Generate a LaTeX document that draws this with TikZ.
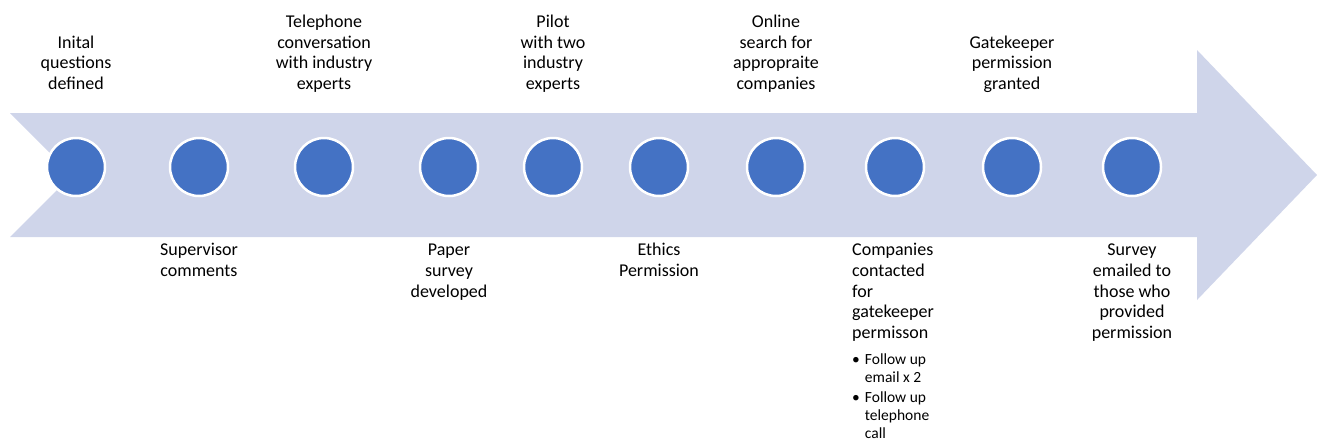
\documentclass[tikz,border=0pt]{standalone}
\usepackage{fontspec}
\setmainfont{Carlito}
\definecolor{arrowfill}{RGB}{207,213,234}
\definecolor{dotfill}{RGB}{68,114,196}
\tikzset{
  dot/.style={circle, fill=dotfill, draw=white, line width=2.5pt, minimum size=58pt, inner sep=0pt},
  toplabel/.style={anchor=south, align=center, inner sep=0pt, font=\fontsize{18}{20.7}\selectfont},
  botlabel/.style={anchor=north, align=center, inner sep=0pt, font=\fontsize{18}{20.7}\selectfont},
  bulletlabel/.style={anchor=north west, inner sep=0pt, font=\fontsize{15.5}{18}\selectfont},
}
\begin{document}
\begin{tikzpicture}[x=1pt,y=-1pt]
\useasboundingbox (0,0) rectangle (1317,440);
\fill[arrowfill] (10,113) -- (1197,113) -- (1197,50) -- (1317,175) -- (1197,300) -- (1197,237) -- (10,237) -- (72,175) -- cycle;
\foreach \n/\x in {1/76,2/199,3/324,4/449,5/553,6/659,7/776,8/895,9/1012,10/1132}
  \node[dot] (c\n) at (\x,167) {};
% top labels
\node[toplabel] (t1) at (76,96) {Inital\\questions\\defined\strut};
\node[toplabel] (t3) at (324,96) {Telephone\\conversation\\with industry\\experts\strut};
\node[toplabel] (t5) at (553,96) {Pilot\\with two\\industry\\experts\strut};
\node[toplabel] (t7) at (776,96) {Online\\search for\\appropraite\\companies\strut};
\node[toplabel] (t9) at (1012,96) {Gatekeeper\\permission\\granted\strut};
% bottom labels
\node[botlabel] (b2) at (199,241) {\strut Supervisor\\comments};
\node[botlabel] (b4) at (449,241) {\strut Paper\\survey\\developed};
\node[botlabel] (b6) at (659,241) {\strut Ethics\\Permission};
\node[botlabel, align=left, anchor=north west] (b8) at (852,241) {\strut Companies\\contacted\\for\\gatekeeper\\permisson};
\node[botlabel] (b10) at (1132,241) {\strut Survey\\emailed to\\those who\\provided\\permission};
\node[bulletlabel] (b8list) at ([yshift=-10pt]b8.south west) {%
  \begin{tabular}{@{}l@{\hspace{5pt}}l@{}}
  \textbullet & Follow up\\
   & email x 2\\[2pt]
  \textbullet & Follow up\\
   & telephone\\
   & call
  \end{tabular}};
\end{tikzpicture}
\end{document}
